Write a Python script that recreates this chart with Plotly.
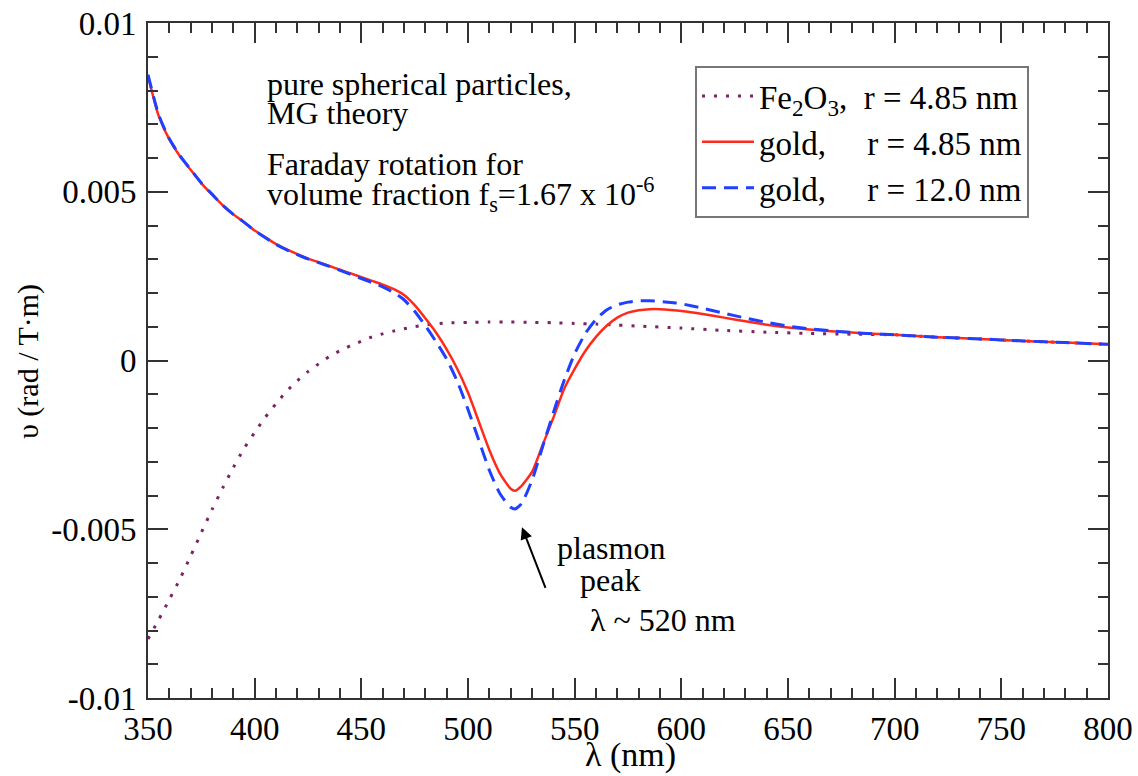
import plotly.graph_objects as go

# ---- data (wavelength nm, rotation rad/(T·m)) ----
wl_gold = [350, 355, 360, 365, 370, 375, 380, 385, 390, 395, 400, 405, 410, 415, 420, 425,
           430, 435, 440, 445, 450, 455, 460, 465, 470, 475, 480, 485, 490, 495, 500, 505,
           510, 515, 520, 522, 525, 530, 535, 540, 545, 550, 555, 560, 565, 570, 575, 580,
           585, 590, 595, 600, 610, 620, 630, 640, 650, 660, 670, 680, 690, 700, 720, 740,
           760, 780, 800]
gold_485 = [8.43, 7.25, 6.55, 6.05, 5.65, 5.25, 4.92, 4.60, 4.33, 4.10, 3.85, 3.65, 3.45,
            3.29, 3.15, 3.02, 2.91, 2.80, 2.69, 2.58, 2.47, 2.36, 2.25, 2.12, 1.94, 1.64,
            1.25, 0.83, 0.33, -0.25, -0.95, -1.80, -2.65, -3.35, -3.80, -3.86, -3.72, -3.30,
            -2.50, -1.70, -0.85, -0.25, 0.28, 0.70, 1.03, 1.27, 1.42, 1.49, 1.52, 1.52,
            1.50, 1.47, 1.38, 1.27, 1.16, 1.06, 0.98, 0.92, 0.87, 0.83, 0.79, 0.76, 0.69,
            0.64, 0.58, 0.53, 0.48]
gold_120 = [8.47, 7.28, 6.57, 6.07, 5.66, 5.26, 4.93, 4.60, 4.33, 4.10, 3.85, 3.64, 3.44,
            3.28, 3.14, 3.01, 2.90, 2.79, 2.67, 2.55, 2.43, 2.31, 2.18, 2.02, 1.80, 1.46,
            1.03, 0.56, 0.04, -0.62, -1.45, -2.35, -3.25, -3.95, -4.35, -4.40, -4.25, -3.55,
            -2.55, -1.55, -0.60, 0.20, 0.80, 1.22, 1.50, 1.65, 1.73, 1.77, 1.77, 1.75,
            1.72, 1.68, 1.55, 1.40, 1.26, 1.13, 1.02, 0.94, 0.88, 0.83, 0.79, 0.76, 0.69,
            0.64, 0.58, 0.53, 0.48]

wl_fe = [350, 355, 360, 365, 370, 375, 380, 385, 390, 395, 400, 405, 410, 415, 420, 425,
         430, 435, 440, 445, 450, 455, 460, 465, 470, 475, 480, 490, 500, 510, 520, 530,
         540, 550, 560, 570, 580, 600, 620, 640, 660, 680, 700, 720, 740, 760, 780, 800]
fe2o3 = [-8.25, -7.68, -7.08, -6.47, -5.79, -5.10, -4.42, -3.78, -3.17, -2.61, -2.13, -1.68,
         -1.28, -0.91, -0.60, -0.33, -0.10, 0.12, 0.29, 0.44, 0.57, 0.70, 0.79, 0.87, 0.94,
         1.00, 1.05, 1.11, 1.13, 1.14, 1.14, 1.13, 1.12, 1.10, 1.08, 1.05, 1.02, 0.96,
         0.89, 0.84, 0.80, 0.78, 0.76, 0.69, 0.64, 0.58, 0.53, 0.48]

scale = 1e-3
x_ticks = [350, 400, 450, 500, 550, 600, 650, 700, 750, 800]
y_ticks = [-0.01, -0.005, 0, 0.005, 0.01]
y_ticktext = ["-0.01", "-0.005", "0", "0.005", "0.01"]

FONT = "Times New Roman, Liberation Serif, serif"
W, H = 1138, 776
# plot area in window pixels: x 148..1108, y 23..698
L, T = 148, 23
R = W - 1108
B = H - 698
PW, PH = W - L - R, H - T - B


def px(xp):
    return (xp - L) / PW


def py(yp):
    return 1 - (yp - T) / PH


fig = go.Figure()
fig.add_trace(go.Scatter(
    x=wl_fe, y=[v * scale for v in fe2o3], mode="lines",
    name="Fe<sub>2</sub>O<sub>3</sub>,\u00a0\u00a0r = 4.85 nm", legendgroup="a",
    line=dict(color="#7d2363", width=3, dash="3px,9px", shape="spline", smoothing=0.6)))
fig.add_trace(go.Scatter(
    x=wl_gold, y=[v * scale for v in gold_485], mode="lines",
    name="gold,\u00a0\u00a0\u00a0\u00a0\u00a0r = 4.85 nm", legendgroup="b",
    line=dict(color="#ff2a1a", width=2.5, shape="spline", smoothing=0.6)))
fig.add_trace(go.Scatter(
    x=wl_gold, y=[v * scale for v in gold_120], mode="lines",
    name="gold,\u00a0\u00a0\u00a0\u00a0\u00a0r = 12.0 nm", legendgroup="c",
    line=dict(color="#2040ff", width=3, dash="14px,8px", shape="spline", smoothing=0.6)))

axis_common = dict(
    showline=True, linewidth=2, linecolor="#333333", mirror="allticks",
    ticks="inside", ticklen=20, tickwidth=2, tickcolor="#333333",
    showgrid=False, zeroline=False, ticklabeloverflow="allow", automargin=False,
    tickfont=dict(family=FONT, size=33, color="black"),
)

fig.update_layout(
    width=W, height=H,
    margin=dict(l=L, r=R, t=T, b=B, autoexpand=False),
    paper_bgcolor="white", plot_bgcolor="white",
    font=dict(family=FONT, color="black"),
    showlegend=True,
    legend=dict(
        x=px(695), y=py(66), xanchor="left", yanchor="top",
        bgcolor="white", bordercolor="#777777", borderwidth=2,
        font=dict(family=FONT, size=33, color="black"),
        tracegroupgap=0, itemwidth=52,
    ),
    xaxis=dict(
        range=[350, 800], tickvals=x_ticks,
        minor=dict(ticks="inside", ticklen=10, tickwidth=1.5, dtick=10, tick0=350,
                   tickcolor="#333333"),
        ticklabelstandoff=0,
        **axis_common),
    yaxis=dict(
        range=[-0.01, 0.01], tickvals=y_ticks, ticktext=y_ticktext,
        minor=dict(ticks="inside", ticklen=10, tickwidth=1.5, dtick=0.001, tick0=0,
                   tickcolor="#333333"),
        ticklabelstandoff=3,
        **axis_common),
)

ann_font = dict(family=FONT, size=32, color="black")
texts = [
    ("pure spherical particles,", 265, 84),
    ("MG theory", 265, 113),
    ("Faraday rotation for", 265, 164),
    ("volume fraction f<sub>s</sub>=1.67 x 10<sup>-6</sup>", 265, 194),
    ("plasmon", 555, 548),
    ("peak", 578, 580),
    ("λ ~ 520 nm", 588, 620),
]
for t, xl, yc in texts:
    fig.add_annotation(text=t, xref="paper", yref="paper", x=px(xl), y=py(yc),
                       xanchor="left", yanchor="middle", showarrow=False, font=ann_font)

# arrow pointing at plasmon peak
fig.add_annotation(x=525.3, y=-0.00494, ax=536.6, ay=-0.00678, xref="x", yref="y",
                   axref="x", ayref="y", text="", showarrow=True, arrowhead=2,
                   arrowsize=1.2, arrowwidth=2, arrowcolor="black")

# axis titles
fig.add_annotation(text="λ (nm)", xref="paper", yref="paper", x=px(630), y=py(755),
                   xanchor="center", yanchor="middle", showarrow=False,
                   font=dict(family=FONT, size=34, color="black"))
fig.add_annotation(text="υ (rad / T·m)", xref="paper", yref="paper", x=px(28), y=py(362),
                   xanchor="center", yanchor="middle", showarrow=False, textangle=-90,
                   font=dict(family=FONT, size=30, color="black"))

fig.write_html(
    "out.html",
    config={"displayModeBar": False},
    post_script=("document.documentElement.style.overflow='hidden';"
                 "document.body.style.overflow='hidden';"
                 "document.body.style.margin='0';"),
)
